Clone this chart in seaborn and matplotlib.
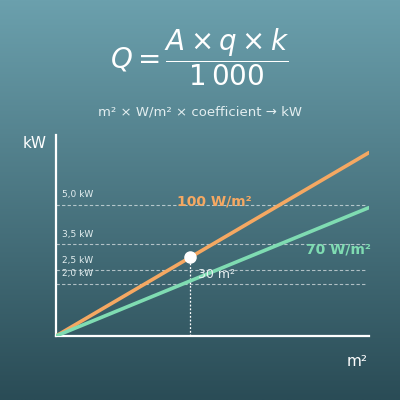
import numpy as np
import pandas as pd
import matplotlib
matplotlib.use("Agg")
import matplotlib.pyplot as plt
import seaborn as sns

# data
area = [0, 70]
kw_100 = [0, 7.0]
kw_70 = [0, 4.9]
series_labels = ["100 W/m²", "70 W/m²"]
series_colors = ["#f5a862", "#7fdcb2"]
ref_levels = [5.0, 3.5, 2.5, 2.0]
ref_labels = ["5,0 kW", "3,5 kW", "2,5 kW", "2,0 kW"]
point_area = 30
point_kw = 3.0

df = pd.DataFrame({
    "area": area * 2,
    "kw": kw_100 + kw_70,
    "series": [series_labels[0]] * 2 + [series_labels[1]] * 2,
})

sns.set_style("white")
plt.rcParams["font.family"] = ["DejaVu Sans"]

fig = plt.figure(figsize=(4, 4), dpi=100)

# gradient background
bg = fig.add_axes([0, 0, 1, 1], zorder=-10)
top = np.array([0x6b, 0xa0, 0xad]) / 255
bottom = np.array([0x2a, 0x4c, 0x56]) / 255
t = np.linspace(0, 1, 256)[:, None]
grad = (top * (1 - t) + bottom * t)[:, None, :]
bg.imshow(grad, aspect="auto", extent=[0, 1, 0, 1])
bg.axis("off")

ax = fig.add_axes([0.14, 0.16, 0.7825, 0.5025])
ax.patch.set_alpha(0)

sns.lineplot(data=df, x="area", y="kw", hue="series", palette=series_colors,
             hue_order=series_labels, linewidth=2.6, legend=False, ax=ax,
             solid_capstyle="round", zorder=3)

ax.set_xlim(0, 70)
ax.set_ylim(0, 7.67)

for lvl, lab in zip(ref_levels, ref_labels):
    ax.plot([0, 69.5], [lvl, lvl], ls=(0, (3, 2)), color="white", alpha=0.6, lw=0.8, zorder=1)
    ax.text(1.3, lvl + 0.22, lab, color="#e3eef0", fontsize=6.5, va="bottom", ha="left")

ax.plot([point_area, point_area], [0, point_kw], ls=(0, (1.5, 1.5)), color="white", lw=0.9, zorder=2)
ax.plot([point_area], [point_kw], "o", color="white", markersize=8, zorder=5)
ax.text(point_area + 1.7, 2.33, "30 m²", color="#e8f0f2", fontsize=9, va="center", ha="left")

ax.text(35.3, 5.15, series_labels[0], color=series_colors[0], fontsize=10,
        fontweight="bold", ha="center", va="center")
ax.text(63.2, 3.3, series_labels[1], color=series_colors[1], fontsize=10,
        fontweight="bold", ha="center", va="center")

for s in ["top", "right"]:
    ax.spines[s].set_visible(False)
for s in ["left", "bottom"]:
    ax.spines[s].set_color("white")
    ax.spines[s].set_linewidth(1.6)
ax.set_xticks([])
ax.set_yticks([])
ax.set_xlabel("")
ax.set_ylabel("")

fig.text(35 / 400, 1 - 143 / 400, "kW", color="white", fontsize=11, ha="center", va="center")
fig.text(357 / 400, 1 - 361 / 400, "m²", color="white", fontsize=11, ha="center", va="center")

fig.text(0.5, 1 - 57 / 400, r"$Q = \dfrac{A \times q \times k}{1\,000}$", color="white",
         fontsize=20, ha="center", va="center")
fig.text(0.5, 1 - 112 / 400, "m² × W/m² × coefficient → kW", color="#e3eef0",
         fontsize=9.5, ha="center", va="center")

fig.savefig("out.png", dpi=100)
